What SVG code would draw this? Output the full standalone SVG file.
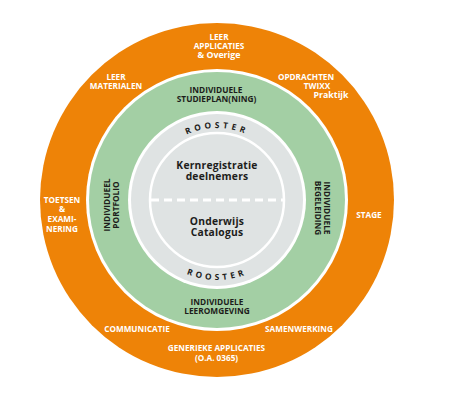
<svg xmlns="http://www.w3.org/2000/svg" width="449" height="403" viewBox="0 0 449 403">
<style>
.o{font-family:"Open Sans","Liberation Sans",sans-serif;font-weight:bold;font-size:8.2px;fill:#ffffff;text-anchor:middle}
.g{font-family:"Open Sans","Liberation Sans",sans-serif;font-weight:bold;font-size:8.3px;fill:#1d1d1b;text-anchor:middle}
.c{font-family:"Open Sans","Liberation Sans",sans-serif;font-weight:bold;font-size:10.3px;fill:#1d1d1b;text-anchor:middle;letter-spacing:0.2px}
.r{font-family:"Open Sans","Liberation Sans",sans-serif;font-weight:bold;font-size:8.3px;fill:#1d1d1b;letter-spacing:3.5px}
</style>
<defs>
<path id="arcTop" d="M 145 200 A 72 72 0 0 1 289 200"/>
<path id="arcBot" d="M 137 200 A 80 80 0 0 0 297 200"/>
</defs>
<rect width="449" height="403" fill="#ffffff"/>
<g id="outer-ring">
<circle cx="217" cy="200" r="177" fill="#ee8307"/>
<circle cx="217" cy="200" r="131" fill="#ffffff"/>
</g>
<g id="green-ring">
<circle cx="217" cy="200" r="128" fill="#a3cfa4"/>
<circle cx="217" cy="200" r="89" fill="#ffffff"/>
</g>
<g id="gray-core">
<circle cx="217" cy="200" r="86" fill="#dfe3e3"/>
<circle cx="217" cy="200" r="67" fill="#dfe3e3" stroke="#ffffff" stroke-width="2.5"/>
</g>
<g id="connectors">
<line x1="151" y1="200" x2="283" y2="200" stroke="#ffffff" stroke-width="3" stroke-dasharray="8 5"/>
</g>
<g id="leer-applicaties">
<text class="o" x="219" y="39.5">LEER</text>
<text class="o" x="219" y="48.7">APPLICATIES</text>
<text class="o" x="219" y="58.3" style="font-size:8.8px">&amp; Overige</text>
</g>
<g id="leer-materialen">
<text class="o" x="116" y="80">LEER</text>
<text class="o" x="116" y="89">MATERIALEN</text>
</g>
<g id="opdrachten">
<text class="o" x="306" y="80">OPDRACHTEN</text>
<text class="o" x="317" y="89">TWIXX</text>
<text class="o" x="331" y="97.8" style="font-size:8.8px">Praktijk</text>
</g>
<g id="toetsen">
<text class="o" x="62" y="203">TOETSEN</text>
<text class="o" x="62" y="212">&amp;</text>
<text class="o" x="62" y="222">EXAMI-</text>
<text class="o" x="62" y="231.5">NERING</text>
</g>
<g id="stage">
<text class="o" x="369" y="218">STAGE</text>
</g>
<g id="communicatie">
<text class="o" x="137" y="332">COMMUNICATIE</text>
</g>
<g id="samenwerking">
<text class="o" x="299" y="332">SAMENWERKING</text>
</g>
<g id="generieke">
<text class="o" x="216.5" y="351.3">GENERIEKE APPLICATIES</text>
<text class="o" x="216.5" y="360.5">(O.A. 0365)</text>
</g>
<g id="studieplanning">
<text class="g" x="216" y="93.3">INDIVIDUELE</text>
<text class="g" x="216.5" y="102.3">STUDIEPLAN(NING)</text>
</g>
<g id="leeromgeving">
<text class="g" x="217" y="304.7">INDIVIDUELE</text>
<text class="g" x="217" y="313.7">LEEROMGEVING</text>
</g>
<g id="portfolio">
<text class="g" transform="translate(110,205) rotate(-90)" x="0" y="0">INDIVIDUEEL</text>
<text class="g" transform="translate(119,205) rotate(-90)" x="0" y="0">PORTFOLIO</text>
</g>
<g id="begeleiding">
<text class="g" transform="translate(324,208) rotate(90)" x="0" y="0">INDIVIDUELE</text>
<text class="g" transform="translate(315,208) rotate(90)" x="0" y="0">BEGELEIDING</text>
</g>
<g id="rooster-top">
<text class="r"><textPath href="#arcTop" startOffset="50%" text-anchor="middle">ROOSTER</textPath></text>
</g>
<g id="rooster-bottom">
<text class="r"><textPath href="#arcBot" startOffset="50%" text-anchor="middle">ROOSTER</textPath></text>
</g>
<g id="kernregistratie">
<text class="c" x="217" y="168.5">Kernregistratie</text>
<text class="c" x="217" y="179.5">deelnemers</text>
</g>
<g id="catalogus">
<text class="c" x="217" y="224.8">Onderwijs</text>
<text class="c" x="217" y="235.8">Catalogus</text>
</g>
</svg>
